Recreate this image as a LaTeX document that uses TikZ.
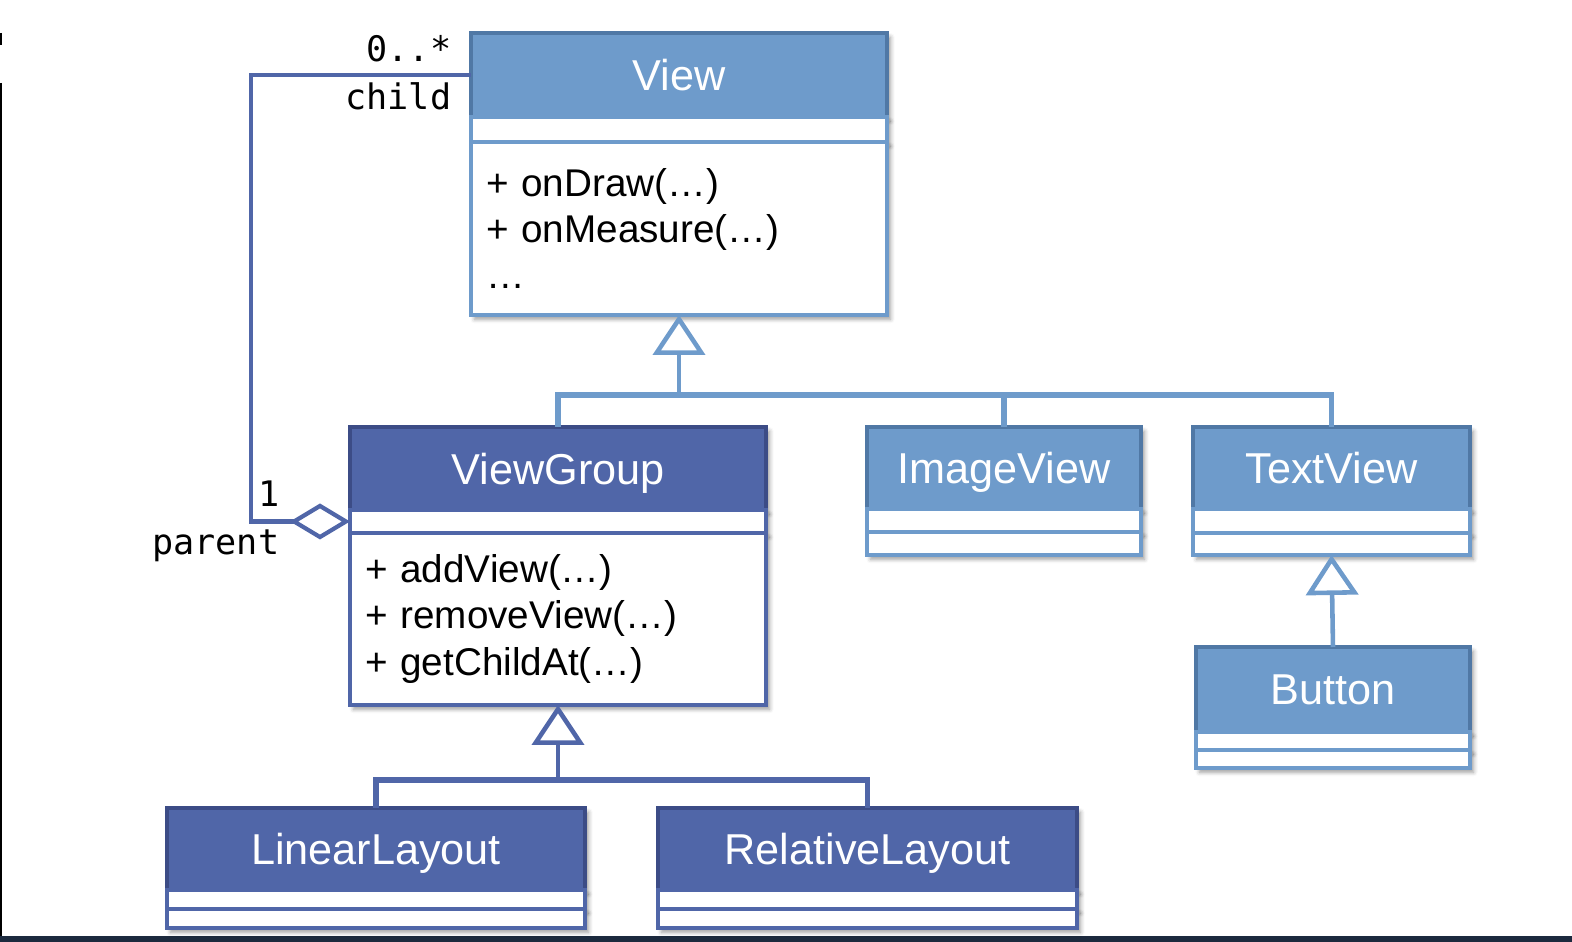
\documentclass[tikz,border=0pt]{standalone}
\usepackage{fontspec}
\setmainfont{Liberation Sans}
\setmonofont{DejaVu Sans Mono}
\usetikzlibrary{arrows.meta, positioning, calc, shadows.blur}
\definecolor{viewblue}  {RGB}{110, 155, 203}
\definecolor{viewedge}  {RGB}{ 80, 120, 165}
\definecolor{groupblue} {RGB}{ 80, 102, 168}
\definecolor{groupedge} {RGB}{ 60,  76, 134}
\definecolor{slidebar}  {RGB}{ 28,  42,  62}

\begin{document}
\begin{tikzpicture}[
	shade/.style={blur shadow={shadow xshift=1pt, shadow yshift=-1.2pt, shadow blur radius=1.2pt, shadow blur steps=4, shadow opacity=40}},
	hdr/.style={draw, line width=1.2pt, inner sep=0pt, outer sep=0pt, text depth=0pt, text=white, font=\fontsize{12.3}{14}\selectfont, shade},
	lhdr/.style={hdr, fill=viewblue, draw=viewedge},
	dhdr/.style={hdr, fill=groupblue, draw=groupedge},
	band/.style={fill=white, line width=1.2pt, inner sep=0pt, outer sep=0pt, minimum height=#1, shade},
	lband/.style={band=#1, draw=viewblue},
	dband/.style={band=#1, draw=groupblue},
	ops/.style={inner xsep=0.15cm, align=left, font=\fontsize{11}{13.1}\selectfont},
	mult/.style={inner sep=0pt, font=\ttfamily\fontsize{10}{12}\selectfont},
	inherit/.style={draw=viewblue, line width=1.3pt, -{Triangle[open, length=0.4cm, width=0.52cm]}},
	link/.style={draw=viewblue, line width=1.5pt},
	ginherit/.style={draw=groupblue, line width=1.3pt, -{Triangle[open, length=0.4cm, width=0.52cm]}},
	glink/.style={draw=groupblue, line width=1.5pt},
	aggr/.style={draw=groupblue, line width=1.2pt, {Diamond[open, length=0.6cm, width=0.36cm]}-}
]
\useasboundingbox (0,0) rectangle (15.72,-9.42);

% slide edges
\draw[black, line width=0.8pt] (0.01,-0.33) -- (0.01,-0.45);
\draw[black, line width=0.8pt] (0.01,-0.83) -- (0.01,-9.42);
\fill[slidebar] (0,-9.36) rectangle (15.72,-9.42);

% View
\node[lhdr, minimum width=4.16cm, minimum height=0.84cm] (view) at (6.79,-0.75) {View};
\node[lband=0.25cm, minimum width=4.16cm, below=0pt of view] (view-a) {};
\node[lband=1.73cm, ops, text width=3.86cm, below=0pt of view-a] (view-o)
	{+ onDraw(…)\\+ onMeasure(…)\\…};

% ViewGroup
\node[dhdr, minimum width=4.16cm, minimum height=0.83cm] (vg) at (5.58,-4.685) {ViewGroup};
\node[dband=0.23cm, minimum width=4.16cm, below=0pt of vg] (vg-a) {};
\node[dband=1.72cm, ops, text width=3.86cm, below=0pt of vg-a] (vg-o)
	{+ addView(…)\\+ removeView(…)\\+ getChildAt(…)};

% ImageView
\node[lhdr, minimum width=2.74cm, minimum height=0.82cm] (iv) at (10.04,-4.68) {ImageView};
\node[lband=0.23cm, minimum width=2.74cm, below=0pt of iv] (iv-a) {};
\node[lband=0.23cm, minimum width=2.74cm, below=0pt of iv-a] (iv-o) {};

% TextView
\node[lhdr, minimum width=2.77cm, minimum height=0.82cm] (tv) at (13.315,-4.68) {TextView};
\node[lband=0.24cm, minimum width=2.77cm, below=0pt of tv] (tv-a) {};
\node[lband=0.22cm, minimum width=2.77cm, below=0pt of tv-a] (tv-o) {};

% Button
\node[lhdr, minimum width=2.74cm, minimum height=0.85cm] (btn) at (13.33,-6.895) {Button};
\node[lband=0.18cm, minimum width=2.74cm, below=0pt of btn] (btn-a) {};
\node[lband=0.18cm, minimum width=2.74cm, below=0pt of btn-a] (btn-o) {};

% LinearLayout
\node[dhdr, minimum width=4.18cm, minimum height=0.82cm] (ll) at (3.76,-8.49) {LinearLayout};
\node[dband=0.19cm, minimum width=4.18cm, below=0pt of ll] (ll-a) {};
\node[dband=0.19cm, minimum width=4.18cm, below=0pt of ll-a] (ll-o) {};

% RelativeLayout
\node[dhdr, minimum width=4.19cm, minimum height=0.82cm] (rl) at (8.675,-8.49) {RelativeLayout};
\node[dband=0.19cm, minimum width=4.19cm, below=0pt of rl] (rl-a) {};
\node[dband=0.19cm, minimum width=4.19cm, below=0pt of rl-a] (rl-o) {};

% inheritance
\coordinate (jview) at (6.79,-3.95);
\draw[inherit] (jview) -- (view-o.south);
\draw[link] (vg.north) |- (jview) -| (iv.north);
\draw[link] (jview) -| (tv.north);
\draw[inherit] (btn.north) -- (tv-o.south);
\coordinate (jgroup) at (5.58,-7.8);
\draw[ginherit] (jgroup) -- (vg-o.south);
\draw[glink] (ll.north) |- (jgroup) -| (rl.north);

% aggregation
\draw[aggr] (vg-a.west) -- ++(-0.99,0) |- (view.west);
\node[mult, anchor=base east] (m-many) at (4.52,-0.62) {0..*};
\node[mult, anchor=base east] (m-child) at (4.52,-1.10) {child};
\node[mult, anchor=base east] (m-one) at (2.80,-5.07) {1};
\node[mult, anchor=base east] (m-parent) at (2.80,-5.55) {parent};
\end{tikzpicture}
\end{document}
